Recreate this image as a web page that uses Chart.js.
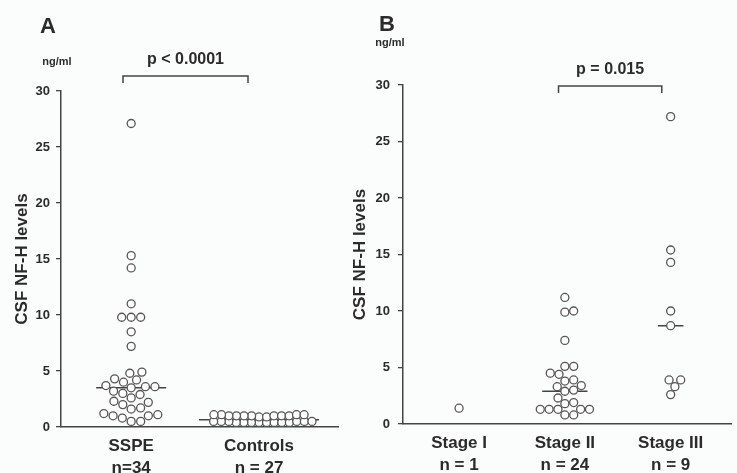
<!DOCTYPE html>
<html>
<head>
<meta charset="utf-8">
<script src="https://cdn.jsdelivr.net/npm/chart.js@4.4.1/dist/chart.umd.min.js"></script>
<style>
  body { margin: 0; background: #fbfcfc; }
  #wrap { position: relative; width: 737px; height: 473px; overflow: hidden; }
  canvas { position: absolute; top: 0; }
</style>
</head>
<body>
<div id="wrap">
  <canvas id="chart-a" width="345" height="473" style="left:0"></canvas>
  <canvas id="chart-b" width="392" height="473" style="left:345px"></canvas>
</div>
<script>
// Panel A: SSPE vs controls
const groupsA = ['SSPE', 'Controls'];
const countsA = ['n=34', 'n = 27'];
const sspeValues = [27.1, 15.3, 14.2, 11.0, 9.8, 9.8, 9.8, 8.5, 7.2, 4.9, 4.8, 4.3, 4.2, 4.0,
  3.7, 3.6, 3.6, 3.5, 3.2, 3.0, 2.9, 2.6, 2.3, 2.2, 2.0, 1.7, 1.6, 1.2, 1.1, 1.0, 1.0, 0.8, 0.5, 0.5];
const controlValues = [1.1, 1.0, 1.0, 1.1, 1.0, 0.9, 1.0, 1.1, 1.0, 1.0, 0.9, 1.1, 1.0,
  0.5, 0.4, 0.4, 0.5, 0.4, 0.5, 0.4, 0.4, 0.5, 0.4, 0.5, 0.4, 0.4, 0.5];
const mediansA = [3.5, 0.65];
const pTextA = 'p < 0.0001';

// Panel B: by stage
const groupsB = ['Stage I', 'Stage II', 'Stage III'];
const countsB = ['n = 1', 'n = 24', 'n = 9'];
const stage1Values = [1.4];
const stage2Values = [11.2, 10.0, 9.9, 7.4, 5.1, 5.1, 4.5, 4.4, 3.9, 3.8, 3.4, 3.3,
  3.0, 2.9, 2.3, 1.9, 1.8, 1.3, 1.3, 1.3, 1.3, 1.3, 0.8, 0.8];
const stage3Values = [27.2, 15.4, 14.3, 10.0, 8.7, 3.9, 3.9, 3.3, 2.6];
const mediansB = [null, 2.9, 8.7];
const pTextB = 'p = 0.015';

const yTicks = [0, 5, 10, 15, 20, 25, 30];

const FONT = '"Liberation Sans", Arial, Helvetica, sans-serif';
const INK = '#2b2b2b';
const LINE = '#444';
const H = 473;

Chart.defaults.font.family = FONT;
Chart.defaults.color = INK;

// simple beeswarm so circles don't pile up (offsets worked out in pixels)
// ky > 1 lets neighbouring rows overlap a little, like the controls strip
function beeswarm(values, center, pxX, pxY, gap, ky) {
  const placed = [];
  const sorted = values.slice().sort((a, b) => a - b);
  const hits = (x, y) => placed.some(p => (p.x - x) ** 2 + (ky * (p.y - y)) ** 2 < gap * gap - 0.01);
  for (const v of sorted) {
    const y = v * pxY;
    const cands = [0];
    for (const p of placed) {
      const dy = ky * Math.abs(p.y - y);
      if (dy < gap) {
        const dx = Math.sqrt(gap * gap - dy * dy);
        cands.push(p.x + dx, p.x - dx);
      }
    }
    cands.sort((a, b) => Math.abs(a) - Math.abs(b));
    const x = cands.find(c => !hits(c, y)) || 0;
    placed.push({ x, y, v });
  }
  return placed.map(p => ({ x: center + p.x / pxX, y: p.v }));
}

const panelText = {
  id: 'panelText',
  afterDraw(chart, args, o) {
    const ctx = chart.ctx;
    const xs = chart.scales.x;
    ctx.save();
    ctx.fillStyle = INK;
    ctx.textAlign = 'center';
    ctx.textBaseline = 'middle';
    ctx.font = 'bold 22px ' + FONT;
    ctx.fillText(o.letter, o.letterX, o.letterY);
    ctx.font = 'bold 11px ' + FONT;
    ctx.fillText('ng/ml', o.unitX, o.unitY);
    // significance bracket
    const x1 = xs.getPixelForValue(o.from);
    const x2 = xs.getPixelForValue(o.to);
    ctx.strokeStyle = LINE;
    ctx.lineWidth = 1.5;
    ctx.beginPath();
    ctx.moveTo(x1, o.bracketY + 7);
    ctx.lineTo(x1, o.bracketY);
    ctx.lineTo(x2, o.bracketY);
    ctx.lineTo(x2, o.bracketY + 7);
    ctx.stroke();
    ctx.font = 'bold 16px ' + FONT;
    ctx.fillText(o.pText, (x1 + x2) / 2, o.bracketY - 16);
    ctx.restore();
  }
};

function panelChart(id, p) {
  const canvas = document.getElementById(id);
  const W = canvas.width;
  const pxX = (p.right - p.left) / (p.xMax - p.xMin);
  const pxY = (p.bottom - p.top) / 30;

  const datasets = [];
  p.series.forEach((vals, i) => {
    const sw = p.swarm[i];
    datasets.push({
      type: 'scatter',
      data: beeswarm(vals, i + 1, pxX, pxY, sw.gap, sw.ky),
      pointRadius: 4,
      borderWidth: 1.3,
      borderColor: '#555',
      backgroundColor: '#fff',
      order: 0
    });
  });
  p.medians.forEach((m, i) => {
    if (m === null) return;
    const hw = p.halfWidths[i] / pxX;
    datasets.push({
      type: 'line',
      data: [{ x: i + 1 - hw, y: m }, { x: i + 1 + hw, y: m }],
      borderColor: LINE,
      borderWidth: 1.5,
      pointRadius: 0,
      order: 1
    });
  });

  return new Chart(canvas, {
    type: 'scatter',
    data: { datasets },
    options: {
      responsive: false,
      animation: false,
      layout: { padding: { left: p.padLeft, top: p.top, right: W - p.right, bottom: 0 } },
      plugins: {
        legend: { display: false },
        tooltip: { enabled: false },
        panelText: p.text
      },
      scales: {
        x: {
          type: 'linear',
          min: p.xMin,
          max: p.xMax,
          afterBuildTicks: s => { s.ticks = p.groups.map((g, i) => ({ value: i + 1 })); },
          afterFit: s => { s.height = H - p.bottom; },
          ticks: {
            callback: (v, i) => [p.groups[i], p.counts[i]],
            font: { size: 17, weight: 'bold', lineHeight: 1.3 },
            color: INK,
            padding: 8,
            autoSkip: false,
            maxRotation: 0
          },
          grid: { display: true, drawOnChartArea: false, drawTicks: false },
          border: { display: true, color: LINE, width: 1.5 }
        },
        y: {
          type: 'linear',
          min: 0,
          max: 30,
          afterBuildTicks: s => { s.ticks = yTicks.map(v => ({ value: v })); },
          afterFit: s => { s.width = p.left - p.padLeft; },
          ticks: { font: { size: 13, weight: 'bold' }, color: INK, padding: p.tickPad },
          grid: { drawOnChartArea: false, tickLength: 5, color: LINE, lineWidth: 1.3 },
          border: { display: true, color: LINE, width: 1.5 },
          title: {
            display: true,
            text: 'CSF NF-H levels',
            font: { size: 17, weight: 'bold' },
            color: INK,
            padding: 0
          }
        }
      }
    },
    plugins: [panelText]
  });
}

panelChart('chart-a', {
  groups: groupsA, counts: countsA,
  series: [sspeValues, controlValues],
  medians: mediansA, halfWidths: [35, 60],
  swarm: [{ gap: 9.5, ky: 1 }, { gap: 7.6, ky: 1.7 }],
  left: 61, right: 338, top: 91, bottom: 427, padLeft: 12, tickPad: 6,
  xMin: 0.451, xMax: 2.618,
  text: { letter: 'A', letterX: 48, letterY: 27, unitX: 57, unitY: 62,
          from: 0.936, to: 1.914, bracketY: 76, pText: pTextA }
});

panelChart('chart-b', {
  groups: groupsB, counts: countsB,
  series: [stage1Values, stage2Values, stage3Values],
  medians: mediansB, halfWidths: [0, 23, 13],
  swarm: [{ gap: 9, ky: 1 }, { gap: 9, ky: 1 }, { gap: 9, ky: 1 }],
  left: 58, right: 392, top: 85, bottom: 424, padLeft: 5, tickPad: 8,
  xMin: 0.47, xMax: 3.577,
  text: { letter: 'B', letterX: 42, letterY: 25, unitX: 45, unitY: 43,
          from: 1.94, to: 2.916, bracketY: 86, pText: pTextB }
});
</script>
</body>
</html>
